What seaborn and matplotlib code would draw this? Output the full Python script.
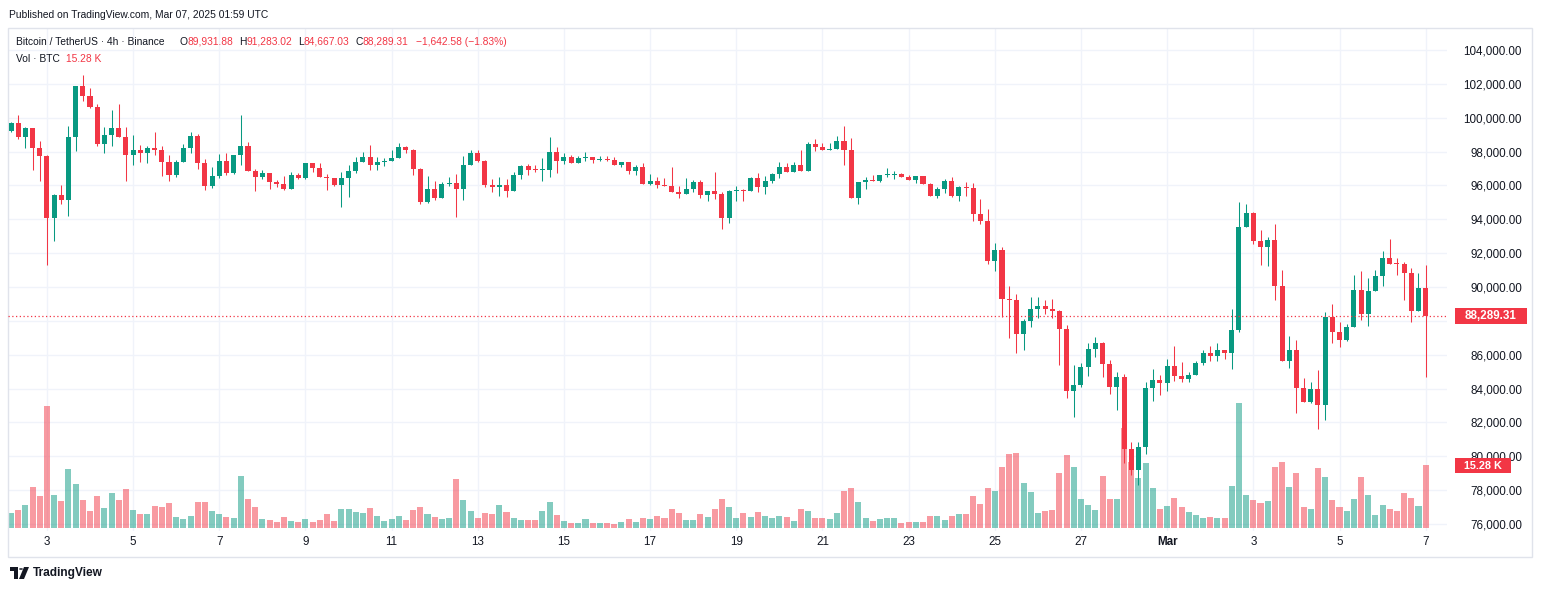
import numpy as np
import pandas as pd
import seaborn as sns
import matplotlib
matplotlib.use("Agg")
import matplotlib.pyplot as plt
from matplotlib.patches import Rectangle, Circle, Polygon

# BTC / USDT 4H CANDLES (BINANCE), FEB 02 04:00 -> MAR 07 00:00 UTC
first_open = 99200
closes = [
    99700, 98860, 99410, 98240, 97730, 94080, 95430, 95140, 98880, 101880,
    101310, 100610, 98430, 99000, 99390, 98840, 97790, 98120, 97900, 98240,
    98120, 97370, 96610, 97390, 98200, 98900, 97330, 95980, 96550, 97430,
    96750, 97790, 98310, 96860, 96510, 96730, 96220, 96100, 95810, 96610,
    96430, 97320, 97020, 96510, 96430, 96000, 96430, 96850, 97410, 97650,
    97220, 97370, 97450, 97610, 98260, 98100, 96980, 95040, 95790, 95260,
    96080, 96120, 95810, 97200, 97920, 97450, 96040, 95920, 96020, 95650,
    96620, 97130, 96920, 96900, 96940, 97960, 97450, 97670, 97330, 97610,
    97650, 97530, 97570, 97530, 97220, 97370, 96860, 97080, 96100, 96280,
    96040, 95980, 95630, 95470, 95790, 96200, 95450, 95670, 95510, 94100,
    95670, 95710, 95690, 96410, 95920, 96260, 96670, 97080, 96820, 97200,
    96860, 98430, 98260, 98100, 98160, 98610, 98080, 95260, 96200, 96310,
    96270, 96590, 96620, 96680, 96510, 96350, 96550, 96090, 95390, 95780,
    96250, 95350, 95900, 95860, 94330, 93910, 91540, 92180, 89300, 89240,
    87250, 87980, 88680, 88900, 88680, 88570, 87510, 83850, 84240, 85260,
    86310, 86720, 85480, 84090, 84710, 80430, 79190, 80530, 84010, 84480,
    84320, 85340, 84730, 84580, 84830, 85520, 86120, 85900, 86300, 86120,
    87480, 93570, 94380, 92700, 92390, 92800, 90040, 85610, 86300, 84010,
    83190, 83990, 83010, 88250, 87320, 86850, 87660, 89840, 88390, 89780,
    90670, 91720, 91380, 91360, 90810, 88560, 89931.88, 88289.31,
]
highs = [
    99750, 100140, 99470, 99410, 98650, 97800, 95490, 96000, 99510, 101900,
    102530, 101770, 100820, 99450, 100470, 100820, 99470, 99000, 98370, 98300,
    99180, 98350, 97770, 97530, 98430, 99140, 99020, 97550, 97080, 97840,
    97900, 97790, 100160, 98550, 96980, 96900, 96730, 96320, 96550, 96790,
    96710, 97320, 97320, 97320, 96670, 96430, 96790, 97220, 97670, 97960,
    98370, 97650, 97610, 98120, 98490, 98310, 98140, 97020, 96550, 96260,
    96220, 96490, 96670, 97730, 98120, 98080, 97510, 96370, 96490, 96370,
    96790, 97220, 97260, 97200, 97610, 98840, 98260, 97940, 97780, 97710,
    97960, 97670, 97730, 97730, 97650, 97370, 97370, 97200, 97310, 96670,
    96490, 96430, 97080, 95960, 96430, 96320, 96330, 95670, 96790, 95630,
    95730, 95980, 95790, 96470, 96730, 96530, 96730, 97390, 97350, 97390,
    98080, 98550, 98730, 98490, 98530, 98900, 99530, 98780, 96200, 96490,
    96600, 96590, 97020, 96840, 96720, 96600, 96550, 96550, 96150, 95880,
    96370, 96490, 95940, 96190, 96130, 95190, 94600, 92600, 92360, 90060,
    89590, 88120, 89430, 89430, 89250, 89310, 88640, 87780, 85420, 85500,
    86720, 87070, 86780, 85660, 84950, 84890, 80860, 80860, 84400, 85130,
    84830, 85720, 86540, 85540, 84950, 85640, 86300, 86530, 86670, 86300,
    88720, 95040, 94930, 94450, 93390, 92980, 93740, 91030, 87130, 86890,
    84640, 84410, 85080, 88540, 89020, 87950, 87800, 90730, 90970, 90550,
    91030, 92130, 92860, 91730, 91500, 91140, 90850, 91283.02,
]
lows = [
    99150, 98730, 98200, 96900, 96260, 91320, 92730, 94900, 94200, 98060,
    100960, 100600, 98300, 97900, 98300, 98840, 96260, 97200, 97390, 97320,
    97790, 96550, 96260, 96490, 97390, 97900, 96980, 95750, 95860, 96430,
    96630, 96680, 97220, 96860, 95690, 96370, 95810, 95920, 95730, 95810,
    96370, 96390, 96790, 96510, 95750, 95940, 94730, 95300, 96730, 97410,
    96920, 96920, 97160, 97450, 97610, 97920, 96630, 94920, 94980, 95160,
    95260, 95980, 94160, 95160, 97200, 97390, 95880, 95630, 95390, 95300,
    95650, 96370, 96630, 96790, 96280, 96490, 96730, 97280, 97330, 97330,
    97450, 97330, 97450, 97450, 97220, 97080, 96690, 96630, 96100, 96040,
    95840, 95940, 95630, 95260, 95470, 95590, 95260, 95100, 95220, 93450,
    93810, 95100, 95100, 95690, 95590, 95470, 96120, 96450, 96790, 96820,
    96860, 96860, 98040, 98100, 98100, 98160, 97220, 95260, 94900, 95790,
    96270, 96210, 96510, 96390, 96510, 96350, 96150, 96090, 95390, 95250,
    95580, 95310, 95090, 95390, 93870, 93720, 91380, 90960, 88230, 86960,
    86130, 86270, 87620, 88150, 88390, 88150, 85420, 83440, 82320, 84090,
    84730, 85870, 84660, 83670, 82730, 79610, 78900, 78310, 80140, 83260,
    83610, 83850, 84440, 84400, 84380, 84780, 85370, 85650, 85610, 85730,
    85140, 87360, 93570, 92520, 91280, 91220, 89210, 85610, 85190, 82540,
    83190, 83130, 81590, 82120, 86670, 86440, 86790, 87660, 88030, 87680,
    89780, 90040, 91380, 90690, 89210, 87910, 88560, 84667.03,
]
volumes_k = [
    3.6, 4.4, 5.6, 9.9, 7.8, 29.6, 8.0, 6.5, 14.3, 10.7,
    6.8, 4.1, 7.8, 4.8, 8.5, 6.8, 9.5, 4.4, 3.4, 3.4,
    5.3, 5.1, 6.1, 2.7, 2.2, 2.9, 6.3, 6.3, 4.1, 3.4,
    2.7, 2.4, 12.6, 7.0, 5.1, 2.2, 1.9, 1.5, 2.7, 1.7,
    1.5, 2.2, 1.5, 1.9, 3.4, 1.7, 4.6, 4.6, 3.9, 3.6,
    4.8, 2.9, 1.7, 2.2, 2.9, 1.9, 4.4, 5.1, 3.4, 2.7,
    2.2, 2.4, 11.9, 6.8, 4.1, 2.4, 3.6, 3.4, 5.6, 3.9,
    2.4, 1.9, 1.9, 1.9, 4.1, 6.3, 3.2, 1.7, 1.2, 1.2,
    2.2, 1.2, 1.2, 1.2, 1.0, 1.5, 2.2, 1.5, 2.4, 2.2,
    2.9, 2.4, 4.6, 3.6, 1.9, 1.9, 3.4, 2.7, 4.6, 7.0,
    5.1, 2.4, 3.6, 2.7, 3.9, 2.9, 2.4, 2.9, 2.7, 1.7,
    4.6, 4.1, 2.4, 2.4, 2.2, 3.6, 9.0, 9.7, 6.3, 2.4,
    1.7, 2.2, 2.4, 2.4, 1.2, 1.5, 1.5, 1.5, 2.9, 2.9,
    1.9, 2.9, 3.4, 3.4, 7.8, 5.8, 9.7, 9.0, 14.8, 17.9,
    18.2, 10.9, 8.7, 3.6, 4.1, 4.4, 13.3, 17.7, 14.8, 7.0,
    5.6, 4.4, 12.6, 7.0, 7.0, 24.2, 16.0, 12.1, 15.8, 9.7,
    4.6, 5.3, 7.3, 5.1, 3.9, 3.2, 2.4, 2.7, 2.4, 2.4,
    10.2, 30.3, 8.0, 6.8, 6.1, 6.5, 14.8, 16.0, 9.9, 13.3,
    5.1, 4.6, 14.5, 12.4, 6.8, 5.1, 4.1, 7.0, 12.4, 8.0,
    3.2, 5.6, 4.6, 4.1, 8.5, 7.3, 5.3, 15.28,
]

# DAY LABELS ON THE TIME AXIS (CANDLE INDEX OF EACH MIDNIGHT)
day_ticks = [5, 17, 29, 41, 53, 65, 77, 89, 101, 113, 125, 137, 149, 161, 173, 185, 197]
day_labels = ["3", "5", "7", "9", "11", "13", "15", "17", "19", "21", "23", "25", "27",
              "Mar", "3", "5", "7"]
price_ticks = [76000, 78000, 80000, 82000, 84000, 86000, 88000, 90000, 92000, 94000,
               96000, 98000, 100000, 102000, 104000]

last_close = 88289.31
header_values = [("O", "89,931.88"), ("H", "91,283.02"), ("L", "84,667.03"), ("C", "88,289.31")]
header_change = "\u22121,642.58 (\u22121.83%)"

GREEN = "#089981"
RED = "#F23645"
TEXT = "#131722"
GRID = "#f0f3fa"

sns.set_theme(style="white")
plt.rcParams["font.family"] = ["Liberation Sans", "DejaVu Sans"]

df = pd.DataFrame({"close": closes, "high": highs, "low": lows, "volume": volumes_k})
df["open"] = [first_open] + closes[:-1]
df["idx"] = np.arange(len(df))
df["dir"] = np.where(df["close"] >= df["open"], "up", "down")
colors = np.where(df["dir"] == "up", GREEN, RED)

W, H = 1542, 591
fig = plt.figure(figsize=(W / 100, H / 100), dpi=100)
left, right, top, bottom = 8, 1447, 28, 531
rect = [left / W, 1 - bottom / H, (right - left) / W, (bottom - top) / H]
PX = 1 / (right - left)  # ONE PIXEL IN AXES FRACTION (X)

# THREE STACKED AXES: GRID (BACK), VOLUME, CANDLES (FRONT)
gax = fig.add_axes(rect)
vax = fig.add_axes(rect, sharex=gax)
ax = fig.add_axes(rect, sharex=gax, sharey=gax)
gax.set_zorder(0)
vax.set_zorder(1)
ax.set_zorder(2)
vax.patch.set_visible(False)
ax.patch.set_visible(False)

# VOLUME BARS
sns.barplot(data=df, x="idx", y="volume", hue="dir", palette={"up": GREEN, "down": RED},
            native_scale=True, dodge=False, width=0.84, alpha=0.5, saturation=1,
            linewidth=0, errorbar=None, legend=False, ax=vax)
vol_lo, vol_hi = -0.73, 121.3
vax.set_ylim(vol_lo, vol_hi)
vax.axis("off")

# CANDLES
ax.vlines(df["idx"], df["low"], df["high"], colors=colors, linewidth=0.75)
body_low = np.minimum(df["open"], df["close"])
body_h = np.maximum(np.abs(df["close"] - df["open"]), 60)
ax.bar(df["idx"], body_h, bottom=body_low, width=0.7, color=colors, linewidth=0)
ax.axhline(last_close, color=RED, linestyle=(0, (1, 2)), linewidth=0.9)
ax.axis("off")

# GRID + AXES
price_lo, price_hi = 75586, 105300
gax.set_xlim(-0.42, 199.97)
gax.set_ylim(price_lo, price_hi)
gax.set_yticks(price_ticks)
# THE LAST-PRICE TAG HIDES THE 88,000 LABEL, AS ON TRADINGVIEW
gax.set_yticklabels(["" if p == 88000 else f"{p:,.2f}" for p in price_ticks])
gax.set_xticks(day_ticks)
gax.set_xticklabels(day_labels)
gax.yaxis.tick_right()
gax.tick_params(axis="y", length=0, pad=54, labelsize=8.4, labelcolor=TEXT)
gax.tick_params(axis="x", length=0, pad=3.5, labelsize=8.4, labelcolor=TEXT)
plt.setp(gax.get_yticklabels(), ha="right")
gax.get_xticklabels()[day_labels.index("Mar")].set_fontweight("bold")
gax.grid(True, color=GRID, linewidth=1)
for s in gax.spines.values():
    s.set_visible(False)

# PRICE / VOLUME TAGS ON THE RIGHT SCALE
price_per_px = (price_hi - price_lo) / (bottom - top)
vol_per_px = (vol_hi - vol_lo) / (bottom - top)
ax.add_patch(Rectangle((1 + 8 * PX, last_close - 8 * price_per_px), 72 * PX, 16 * price_per_px,
                       transform=ax.get_yaxis_transform(), fc=RED, ec="none", clip_on=False))
ax.text(1 + 44 * PX, last_close, f"{last_close:,.2f}", transform=ax.get_yaxis_transform(),
        ha="center", va="center", color="white", fontsize=8.4, fontweight="bold")
vax.add_patch(Rectangle((1 + 8 * PX, volumes_k[-1] - 8 * vol_per_px), 56 * PX, 15 * vol_per_px,
                        transform=vax.get_yaxis_transform(), fc=RED, ec="none", clip_on=False))
vax.text(1 + 36 * PX, volumes_k[-1] - 1 * vol_per_px, f"{volumes_k[-1]:.2f} K",
         transform=vax.get_yaxis_transform(),
         ha="center", va="center", color="white", fontsize=7.8, fontweight="bold")

# FRAME
fig.patches.append(Rectangle((8 / W, 1 - 557 / H), 1524 / W, 529 / H, transform=fig.transFigure,
                             fill=False, ec="#e0e3eb", lw=1))

# HEADER TEXT, LAID OUT PIECE BY PIECE
fs = 7.4
renderer = fig.canvas.get_renderer()


def put(x_px, y_px, s, color, **kw):
    t = fig.text(x_px / W, 1 - y_px / H, s, fontsize=fs, color=color, va="center", **kw)
    return x_px + t.get_window_extent(renderer).width


fig.text(9 / W, 1 - 15 / H, "Published on TradingView.com, Mar 07, 2025 01:59 UTC",
         fontsize=fs, color=TEXT, va="center")
put(16, 42, "Bitcoin / TetherUS \u00b7 4h \u00b7 Binance", TEXT)
x = 179
for k, v in header_values:
    x = put(x, 42, k, TEXT)
    x = put(x, 42, v, RED) + 6
put(x + 2, 42, header_change, RED)
x = put(16, 59, "Vol \u00b7 BTC", TEXT)
put(x + 6, 59, f"{volumes_k[-1]:.2f} K", RED)

# TRADINGVIEW LOGO
fig.patches.append(Polygon([(10 / W, 1 - 567 / H), (18 / W, 1 - 567 / H), (18 / W, 1 - 579 / H),
                            (14 / W, 1 - 579 / H), (14 / W, 1 - 571 / H), (10 / W, 1 - 571 / H)],
                           closed=True, transform=fig.transFigure, fc=TEXT, ec="none"))
fig.patches.append(Circle((21 / W, 1 - 569 / H), 2 / W, transform=fig.transFigure, fc=TEXT, ec="none"))
fig.patches.append(Polygon([(24 / W, 1 - 567 / H), (29 / W, 1 - 567 / H), (24 / W, 1 - 579 / H),
                            (19 / W, 1 - 579 / H)],
                           closed=True, transform=fig.transFigure, fc=TEXT, ec="none"))
fig.text(33 / W, 1 - 573 / H, "TradingView", fontsize=8.6, fontweight="bold", color=TEXT, va="center")

fig.savefig("out.png", dpi=100)
